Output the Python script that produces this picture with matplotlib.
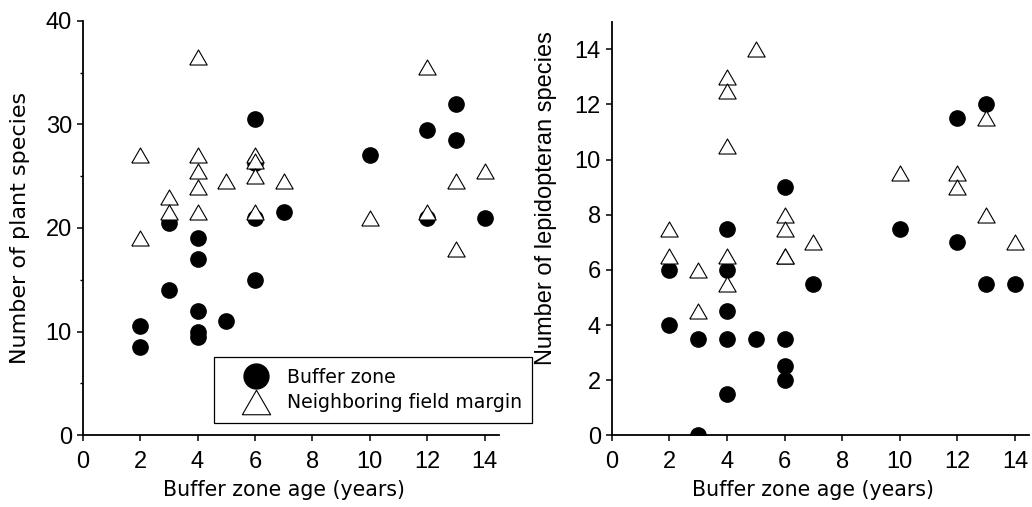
import numpy as np
import matplotlib
matplotlib.use('Agg')
import matplotlib.pyplot as plt
from matplotlib.ticker import MultipleLocator

plt.rcParams['font.family'] = ['DejaVu Sans']

# buffer zone age (years) for each site
age = [2, 2, 3, 3, 4, 4, 4, 4, 4, 5, 6, 6, 6, 6, 7, 10, 12, 12, 13, 13, 14]

# number of plant species
plant_buffer = [10.5, 8.5, 20.5, 14, 19, 17, 12, 10, 9.5, 11, 30.5, 26.3, 21, 15,
                21.5, 27, 29.5, 21, 32, 28.5, 21]
plant_margin = [27, 19, 23, 21.5, 36.5, 27, 25.5, 24, 21.5, 24.5, 27, 26.5, 25, 21.5,
                24.5, 21, 35.5, 21.5, 24.5, 18, 25.5]

# number of lepidopteran species
lep_buffer = [6, 4, 3.5, 0, 7.5, 6, 4.5, 3.5, 1.5, 3.5, 9, 3.5, 2.5, 2,
              5.5, 7.5, 11.5, 7, 12, 5.5, 5.5]
lep_margin = [7.5, 6.5, 6, 4.5, 13, 12.5, 10.5, 6.5, 5.5, 14, 8, 7.5, 6.5, 6.5,
              7, 9.5, 9.5, 9, 11.5, 8, 7]

labels = ['Buffer zone', 'Neighboring field margin']

# equilateral-ish triangle centred on its bounding box
tri = [(-1, -0.866), (1, -0.866), (0, 0.866), (-1, -0.866)]

W, H = 1032, 507
fig = plt.figure(figsize=(W / 100, H / 100), dpi=100)

ax1 = fig.add_axes([82.7 / W, 1 - 435.3 / H, (499 - 82.7) / W, (435.3 - 20.7) / H])
ax2 = fig.add_axes([611.7 / W, 1 - 435.3 / H, (1029.3 - 611.7) / W, (435.3 - 21.7) / H])

tick_font = {'family': 'Liberation Sans', 'size': 17}

for ax, yb, ym in [(ax1, plant_buffer, plant_margin), (ax2, lep_buffer, lep_margin)]:
    ax.plot(age, yb, linestyle='none', marker='o', ms=11, color='black',
            mec='black', label=labels[0])
    ax.plot(age, ym, linestyle='none', marker=tri, ms=12.5, mfc='white',
            mec='black', mew=0.8, label=labels[1])
    ax.spines['top'].set_visible(False)
    ax.spines['right'].set_visible(False)
    for s in ['left', 'bottom']:
        ax.spines[s].set_linewidth(1.3)
    ax.set_xlim(0, 14.5)
    ax.set_xticks(np.arange(0, 15, 2))
    ax.tick_params(axis='both', which='major', direction='out', length=4.3, width=1.1)
    ax.tick_params(axis='x', pad=7)
    ax.tick_params(axis='y', pad=3.5)
    for lab in ax.get_xticklabels() + ax.get_yticklabels():
        lab.set_fontproperties(tick_font)
    ax.set_xlabel('Buffer zone age (years)', fontsize=14.8)
    ax.xaxis.set_label_coords(7 / 14.5, -0.108)

ax1.set_ylim(0, 40)
ax1.set_yticks([0, 10, 20, 30, 40])
ax1.yaxis.set_minor_locator(MultipleLocator(5))
ax1.tick_params(axis='y', which='minor', direction='out', length=2.4, width=1.0)
for lab in ax1.get_yticklabels():
    lab.set_fontproperties(tick_font)
ax1.set_ylabel('Number of plant species', fontsize=16)
ax1.yaxis.set_label_coords(-0.1266, 0.5)

ax2.set_ylim(0, 15)
ax2.set_yticks(np.arange(0, 15, 2))
for lab in ax2.get_yticklabels():
    lab.set_fontproperties(tick_font)
ax2.set_ylabel('Number of lepidopteran species', fontsize=17, family='Liberation Sans')
ax2.yaxis.set_label_coords(-0.1317, 0.5725)

leg = ax1.legend(loc='upper left', bbox_to_anchor=(214 / W, 1 - 357.3 / H),
                 bbox_transform=fig.transFigure, fontsize=13.6, markerscale=1.63,
                 frameon=True, fancybox=False, framealpha=1, edgecolor='black',
                 borderpad=0.55, handlelength=3.3, handletextpad=0.0,
                 labelspacing=0.35, borderaxespad=0)
leg.get_frame().set_linewidth(0.9)

fig.savefig('out.png', dpi=100)
